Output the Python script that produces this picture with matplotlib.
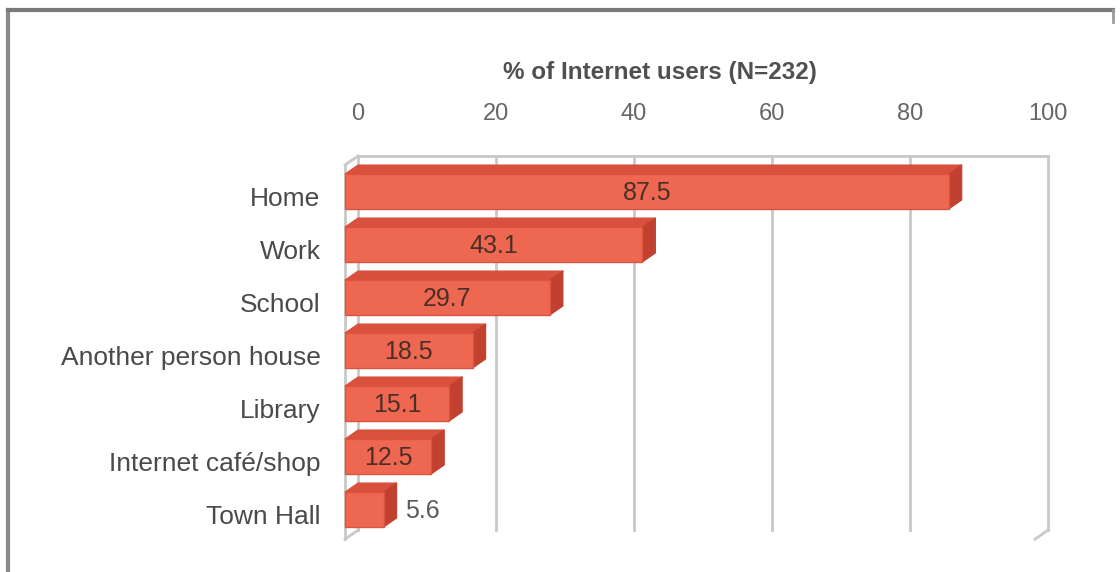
import matplotlib
matplotlib.use("Agg")
import matplotlib.pyplot as plt
from matplotlib.patches import Polygon
from matplotlib.lines import Line2D
from matplotlib.transforms import ScaledTranslation

plt.rcParams['font.family'] = ['Liberation Sans', 'DejaVu Sans']

# Data
categories = ["Home", "Work", "School", "Another person house",
              "Library", "Internet café/shop", "Town Hall"]
values = [87.5, 43.1, 29.7, 18.5, 15.1, 12.5, 5.6]
x_ticks = [0, 20, 40, 60, 80, 100]
axis_title = "% of Internet users (N=232)"

# Figure and plot area (pixel layout)
W, H, DPI = 1120, 572, 100
fig = plt.figure(figsize=(W / DPI, H / DPI), dpi=DPI)
ax_px = (340, 140, 1060, 550)          # left, top, right, bottom in pixels
ax = fig.add_axes([ax_px[0] / W, (H - ax_px[3]) / H,
                   (ax_px[2] - ax_px[0]) / W, (ax_px[3] - ax_px[1]) / H])

# scale: pixels per data unit
sx, x0px = 6.9, 345
sy, y0px = 53.0, 191.5
ax.set_xlim((ax_px[0] - x0px) / sx, (ax_px[2] - x0px) / sx)
ax.set_ylim((ax_px[3] - y0px) / sy, (ax_px[1] - y0px) / sy)

# 3-D depth offsets (right and up)
DX = 13 / sx
DY = 9 / sy
half = 0.33

wall_c = '#C9C9C9'
wall_lw = 2.0
n = len(categories)
y_front_top, y_front_bot = -0.5, n - 1 + 0.56
y_back_top, y_back_bot = y_front_top - DY, y_front_bot - DY
xmax = x_ticks[-1]

# back wall gridlines
for v in x_ticks:
    ax.add_line(Line2D([v + DX, v + DX], [y_back_top, y_back_bot],
                       color=wall_c, lw=wall_lw, zorder=1))
ax.add_line(Line2D([DX, xmax + DX], [y_back_top, y_back_top],
                   color=wall_c, lw=wall_lw, zorder=1))
# left side wall edges
ax.add_line(Line2D([0, 0], [y_front_top, y_front_bot], color=wall_c, lw=wall_lw, zorder=1))
ax.add_line(Line2D([0, DX], [y_front_top, y_back_top], color=wall_c, lw=wall_lw, zorder=1))
ax.add_line(Line2D([0, DX], [y_front_bot, y_back_bot], color=wall_c, lw=wall_lw, zorder=1))
# right corner
ax.add_line(Line2D([xmax, xmax + DX], [y_front_bot, y_back_bot], color=wall_c, lw=wall_lw, zorder=1))

front_c = '#EE6750'
top_c = '#D9503D'
side_c = '#C2402F'

for i, v in enumerate(values):
    yt, yb = i - half, i + half
    ax.add_patch(Polygon([(0, yt), (v, yt), (v + DX, yt - DY), (DX, yt - DY)],
                         closed=True, fc=top_c, ec=top_c, lw=0.8, zorder=3,
                         joinstyle='round'))
    ax.add_patch(Polygon([(v, yt), (v + DX, yt - DY), (v + DX, yb - DY), (v, yb)],
                         closed=True, fc=side_c, ec=side_c, lw=0.8, zorder=3,
                         joinstyle='round'))
    ax.barh(i, v, height=2 * half, left=0, color=front_c,
            edgecolor='#DA5440', linewidth=1.0, zorder=4)
    if v > 8:
        ax.text(v / 2, i + 0.02, f"{v:.1f}", ha='center', va='center',
                fontsize=18, color='#4B2E28', zorder=5)
    else:
        ax.text(v + DX + 1.2, i + 0.02, f"{v:.1f}", ha='left', va='center',
                fontsize=18, color='#5A5A5A', zorder=5)

# category labels
ax.set_yticks(range(n))
ax.set_yticklabels(categories, fontsize=19, color='#4A4A4A')
ax.tick_params(axis='y', length=0, pad=14)
for lbl in ax.get_yticklabels():
    lbl.set_transform(lbl.get_transform() + ScaledTranslation(0, -0.05, fig.dpi_scale_trans))

# value axis on top, labels at back-wall positions
ax.xaxis.tick_top()
ax.set_xticks([v + DX for v in x_ticks])
ax.set_xticklabels([str(v) for v in x_ticks], fontsize=17, color='#666666')
ax.tick_params(axis='x', length=0, pad=11)

for s in ax.spines.values():
    s.set_visible(False)
ax.set_facecolor('none')

fig.text(660 / W, 1 - 72 / H, axis_title, ha='center', va='center',
         fontsize=17.5, fontweight='bold', color='#505050')

# outer frame
fig.add_artist(Line2D([8 / W, 8 / W], [0, 1 - 10 / H], transform=fig.transFigure,
                      color='#8A8A8A', lw=3))
fig.add_artist(Line2D([8 / W, 1113 / W], [1 - 10 / H, 1 - 10 / H], transform=fig.transFigure,
                      color='#7A7A7A', lw=3))
fig.add_artist(Line2D([1113 / W, 1113 / W], [1 - 10 / H, 1 - 22 / H], transform=fig.transFigure,
                      color='#9A9A9A', lw=2))

fig.savefig("out.png", dpi=DPI)
